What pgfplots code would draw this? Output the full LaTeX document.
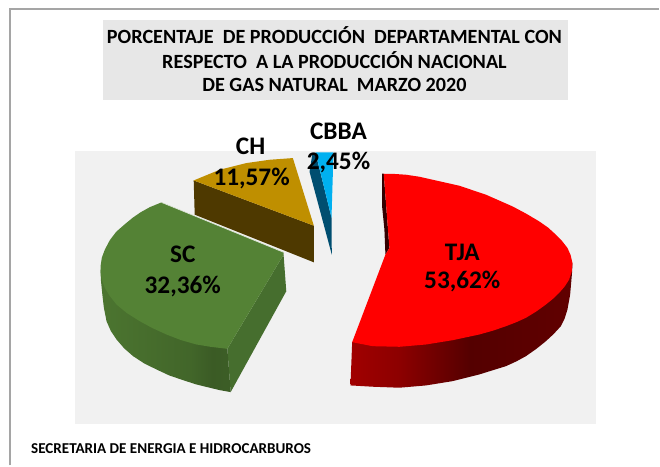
\documentclass[border=0pt]{standalone}
\usepackage{pgfplots}
\pgfplotsset{compat=1.18}
\usepackage{fontspec}
\setmainfont{Carlito}
\definecolor{cFrame}{RGB}{165,165,165}
\definecolor{cPlot}{RGB}{241,241,241}
\definecolor{cTitle}{RGB}{231,231,231}
\definecolor{cTJA}{RGB}{255,0,0}
\definecolor{cSC}{RGB}{84,130,53}
\definecolor{cSCside}{RGB}{70,110,46}
\definecolor{cCH}{RGB}{191,143,0}
\definecolor{cCHside}{RGB}{78,57,0}
\definecolor{cCB}{RGB}{0,176,240}
\definecolor{cCBside}{RGB}{0,78,112}
\pgfdeclarehorizontalshading{redside}{100bp}{color(0bp)=(red!63!black); color(25bp)=(red!63!black); color(36bp)=(red!55!black); color(52bp)=(red!33!black); color(75bp)=(red!38!black); color(100bp)=(red!38!black)}
\pgfdeclarehorizontalshading{greenside}{100bp}{color(0bp)=(cSC!90!black); color(25bp)=(cSC!90!black); color(60bp)=(cSC!78!black); color(68bp)=(cSC!70!black); color(75bp)=(cSC!72!black); color(100bp)=(cSC!72!black)}
\newcommand{\titlefont}{\fontsize{20.2}{24}\selectfont\bfseries}
\newcommand{\labelfont}{\fontsize{25.3}{29}\selectfont\bfseries}

\begin{document}
\begin{tikzpicture}
\begin{axis}[
    scale only axis,
    width=660pt, height=466pt,
    xmin=0, xmax=660, ymin=0, ymax=466,
    y dir=reverse,
    axis lines=none,
    clip=false,
    no markers,
]
% keeps the page at the full axis size
\addplot[draw=none] coordinates {(0,0) (660,466)};
% frame and backgrounds
\addplot[draw=cFrame, line width=2pt] coordinates {(10,466) (10,9) (660,9)};
\addplot[fill=cTitle, draw=none] coordinates {(103,20) (569,20) (569,100) (103,100)} --cycle;
\addplot[fill=cPlot, draw=none] coordinates {(75,151) (597,151) (597,425) (75,425)} --cycle;

% CBBA 2,45 %
\addplot[fill=cCBside, draw=none] coordinates {(313,153) (316,153) (332,218) (332.3,255) (310,172)} --cycle;
\addplot[fill=cCB, draw=none] coordinates {(316,152.5) (334,152.5) (332,218)} --cycle;

% CH 11,57 %
\addplot[fill=cCHside, draw=none] coordinates {(194,180.7) (195,215) (314.3,262.7) (314.3,226)} --cycle;
\addplot[fill=cCH, draw=none] coordinates {(194,180.7) (220,170) (246.7,163.3) (270,160) (293.3,158.3) (314.3,226)} --cycle;

% SC 32,36 %
\addplot[fill=cSCside, draw=none] coordinates {(284,255) (286.7,291.7) (231,392.7) (227.7,349.3)} --cycle;
\addplot[shade, shading=greenside, draw=none] coordinates {(100.7,270) (101,280) (102.5,295) (104,308) (106.7,321.7) (111,331.5) (116.7,340) (124.5,349) (133.3,356.7) (144.5,364) (156.7,370) (169.5,376) (183.3,380.7) (196.5,385) (210,388.3) (220,390.7) (231,392.7) (227.7,349.3)} --cycle;
\addplot[fill=cSC, draw=none] coordinates {(161.7,202.7) (284,252.7) (284,255) (227.7,349.3) (212,347.5) (196.7,345) (181,340.5) (166.7,335) (152.5,328.5) (140,321.7) (127,313.5) (116.7,305) (110,296.5) (105,288.5) (102,280) (100.7,272) (100.7,266.7) (102,258) (105,250) (110,240.5) (116.5,232) (124.5,225) (133,218) (141,212.5) (150,207.5)} --cycle;
\addplot[draw=white!80!cSC, line width=0.6pt] coordinates {(161.7,202.7) (284,252.7)};

% TJA 53,62 %
\addplot[fill=black!80!red, draw=none] coordinates {(382.7,174) (384.3,174) (390,248.3) (386,255) (385,230) (382.7,207)} --cycle;
\addplot[shade, shading=redside, draw=none] coordinates {(573.3,263.3) (573,272) (572.3,280) (571,295) (568.3,310) (565.5,319) (561.7,326.7) (554.5,334.5) (546.7,341.7) (537,349.5) (526.7,356.7) (517,362) (506.7,366.7) (480,375) (453.3,381.7) (426.7,386) (400,388.3) (373.3,387.3) (351,386) (352.7,342.7)} --cycle;
\addplot[fill=cTJA, draw=none] coordinates {(384.3,174) (395,174.2) (406.7,175) (420,177) (433.3,180) (460,186) (486.7,195) (513.3,206.7) (527,214) (540,221.7) (549,228) (556.7,235) (563,241.5) (568.3,248.3) (571.5,255.5) (573.3,263.3) (572.6,272) (570,280) (565.5,287) (560,293.3) (553.5,299.5) (546.7,305) (537,312) (526.7,318.3) (517,322.7) (506.7,326.7) (493.5,331.2) (480,335) (453.3,340.7) (426.7,345) (400,347.3) (373.3,346.7) (352.7,342.7) (386,255) (390,248.3)} --cycle;

% title
\node[font=\titlefont] at (axis cs:335,35) {PORCENTAJE\ \ DE PRODUCCIÓN\ \ DEPARTAMENTAL CON};
\node[font=\titlefont] at (axis cs:335,60) {RESPECTO\ \ A LA PRODUCCIÓN NACIONAL};
\node[font=\titlefont] at (axis cs:335,85) {DE GAS NATURAL\ \ MARZO 2020};

% data labels
\node[font=\labelfont] at (axis cs:339,131) {CBBA};
\node[font=\labelfont] at (axis cs:339,163) {2,45\%};
\node[font=\labelfont] at (axis cs:251,147) {CH};
\node[font=\labelfont] at (axis cs:252,179) {11,57\%};
\node[font=\labelfont] at (axis cs:183,255) {SC};
\node[font=\labelfont] at (axis cs:183,287) {32,36\%};
\node[font=\labelfont] at (axis cs:463,253) {TJA};
\node[font=\labelfont] at (axis cs:463,282) {53,62\%};

% source
\node[font=\fontsize{15.1}{18}\selectfont\bfseries, anchor=west, inner sep=0pt] at (axis cs:31,449) {SECRETARIA DE ENERGIA E HIDROCARBUROS};
\end{axis}
\end{tikzpicture}
\end{document}
